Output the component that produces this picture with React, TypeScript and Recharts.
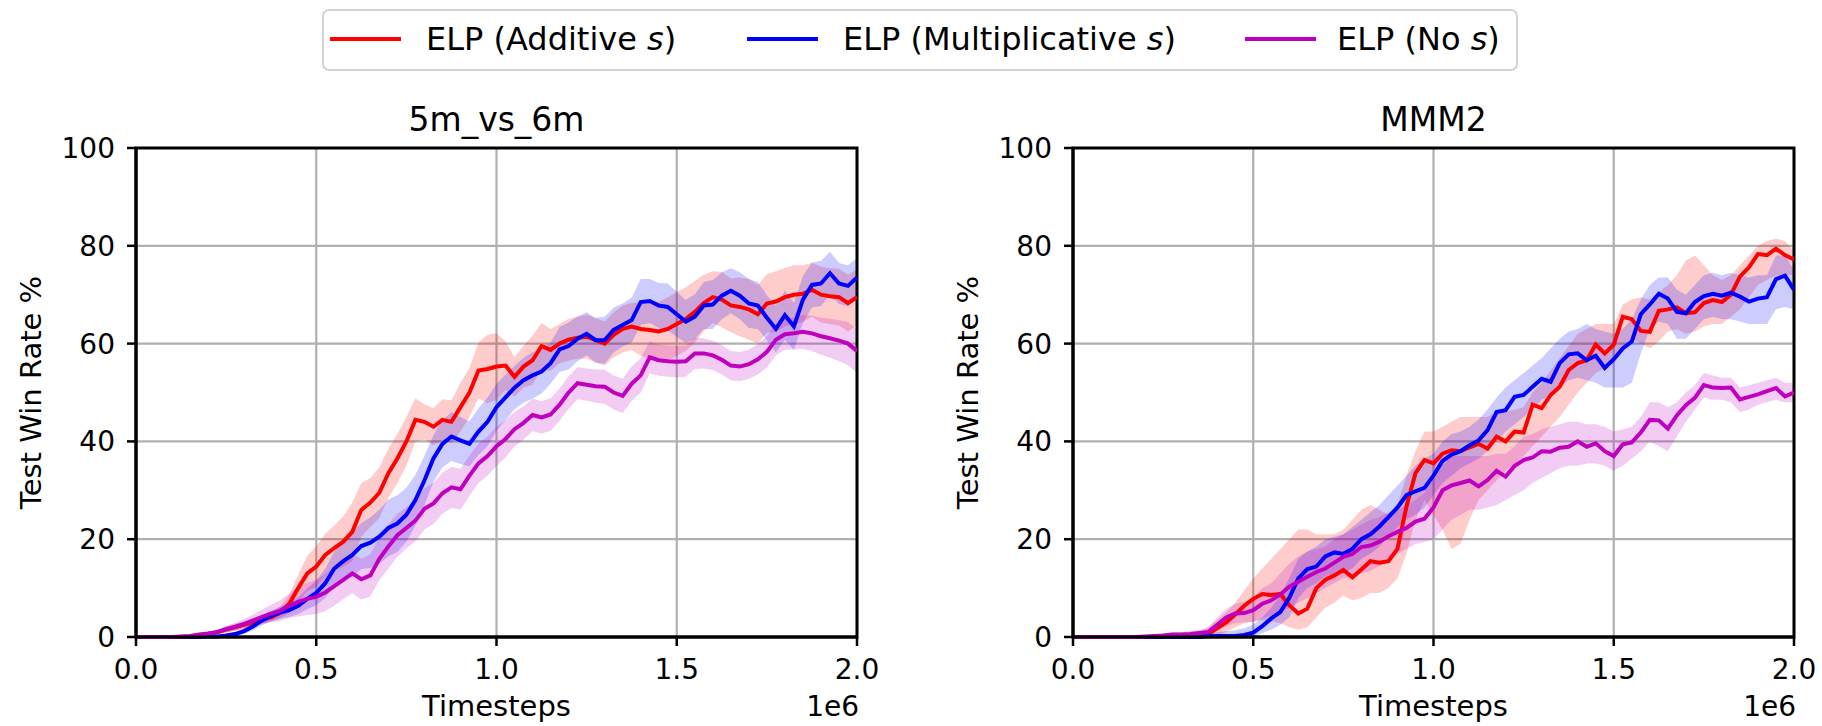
import { Area, CartesianGrid, ComposedChart, Label, Line, ReferenceArea, XAxis, YAxis } from "recharts";

const FONT = "'DejaVu Sans', sans-serif";
const RED = "#ff0000";
const BLUE = "#0000ff";
const MAGENTA = "#bf00bf";

// timesteps, in units of 1e6
const T_STEPS = [
  0, 0.025, 0.05, 0.075, 0.1, 0.125, 0.15, 0.175, 0.2, 0.225,
  0.25, 0.275, 0.3, 0.325, 0.35, 0.375, 0.4, 0.425, 0.45, 0.475,
  0.5, 0.525, 0.55, 0.575, 0.6, 0.625, 0.65, 0.675, 0.7, 0.725,
  0.75, 0.775, 0.8, 0.825, 0.85, 0.875, 0.9, 0.925, 0.95, 0.975,
  1, 1.025, 1.05, 1.075, 1.1, 1.125, 1.15, 1.175, 1.2, 1.225,
  1.25, 1.275, 1.3, 1.325, 1.35, 1.375, 1.4, 1.425, 1.45, 1.475,
  1.5, 1.525, 1.55, 1.575, 1.6, 1.625, 1.65, 1.675, 1.7, 1.725,
  1.75, 1.775, 1.8, 1.825, 1.85, 1.875, 1.9, 1.925, 1.95, 1.975,
  2,
];
const X_TICKS = [0, 0.5, 1, 1.5, 2];
const Y_TICKS = [0, 20, 40, 60, 80, 100];

// 5m_vs_6m
const M5_ADD = [
  0, 0, 0, 0, 0, 0, 0.1, 0.3, 0.6, 1.0,
  1.5, 2.0, 2.5, 3.0, 3.6, 4.0, 5.0, 6.8, 10, 13,
  14.4, 16.8, 18.2, 19.5, 21.5, 26, 27.5, 29.5, 33.5, 36.5,
  40, 44.4, 44, 43, 44.4, 44, 47, 50, 54.5, 54.8,
  55.3, 55.5, 53.2, 55.3, 56.6, 59.5, 58.7, 60, 60.8, 61.2,
  61.4, 60.7, 60, 61.8, 63, 63.5, 63, 62.8, 62.5, 63,
  64, 65, 66.5, 68.3, 69.5, 69, 67.8, 67.5, 67, 66,
  68.2, 68.6, 69.5, 70, 70.2, 71, 70, 69.7, 69.5, 68.3,
  69.5,
];
const M5_ADD_SD = [
  0, 0, 0, 0, 0, 0, 0.1, 0.3, 0.4, 0.5,
  0.6, 0.7, 0.7, 0.8, 0.8, 0.9, 1.2, 1.8, 2.8, 3.6,
  4.2, 4.3, 4.6, 5.2, 6, 5.5, 5, 5.2, 5, 5,
  5, 4.4, 3.6, 3.8, 4.2, 4.4, 5, 5, 5.7, 7,
  6.8, 5, 4, 4.3, 5, 4.7, 4.3, 4, 4.3, 4.3,
  4.5, 4.5, 4.5, 4.6, 4.8, 4.8, 5.5, 5.8, 6, 6.5,
  6.5, 6.5, 6.3, 5.8, 5.3, 5.7, 5.5, 6, 6.2, 6,
  6, 6.2, 6, 6, 5.8, 5.5, 5.7, 5.7, 5.8, 5.8,
  5.7,
];
const M5_MUL = [
  0, 0, 0, 0, 0, 0, 0, 0, 0.1, 0.1,
  0.3, 0.6, 1.2, 2.2, 3.4, 4.3, 5.0, 5.5, 6.4, 7.8,
  9, 11, 14, 15.5, 16.8, 18.6, 19.3, 20.5, 22.3, 23.2,
  25, 28, 32, 36.5, 39.5, 41, 40.2, 39.5, 42, 44,
  47, 49, 51, 52.5, 53.5, 54.3, 56, 58.8, 59.5, 61,
  62, 60.7, 60.7, 62.8, 63.8, 64.8, 68.5, 68.7, 67.8, 67.5,
  66, 64.5, 65.5, 67.8, 68, 69.8, 70.8, 69.8, 68.2, 67.8,
  65.3, 63, 65.8, 63.5, 69, 72, 72.3, 74.4, 72.3, 71.8,
  73.5,
];
const M5_MUL_SD = [
  0, 0, 0, 0, 0, 0, 0, 0, 0, 0.1,
  0.3, 0.4, 0.6, 0.8, 1.0, 1.1, 1.2, 1.4, 1.7, 2.1,
  2.5, 3, 3.5, 4, 4.5, 4.7, 5.2, 5.5, 5.8, 5.8,
  5.5, 5.2, 5, 4.8, 4.8, 5, 4.8, 4.6, 4.8, 5,
  4.8, 4.7, 4.4, 4.6, 4.8, 4.5, 4.2, 4.6, 4.8, 4.6,
  4.4, 4.6, 4.8, 4.6, 4.4, 4.6, 4.7, 4.5, 4.6, 4.8,
  4.6, 4.4, 4.6, 4.8, 5, 4.8, 4.6, 4.8, 5, 4.8,
  4.6, 4.8, 5, 4.8, 4.8, 4.6, 4.6, 4.4, 4.2, 4.2,
  4,
];
const M5_NO = [
  0, 0, 0, 0, 0, 0.1, 0.2, 0.5, 0.7, 1.0,
  1.6, 2.1, 2.7, 3.4, 4.1, 4.8, 5.4, 6.4, 7.2, 7.8,
  8.2, 9.1, 10.4, 11.7, 13, 11.8, 12.6, 16, 18.5, 20.8,
  22.3, 23.8, 26.2, 27.3, 29.4, 30.6, 30.2, 33, 35.5, 37,
  39, 40.5, 42.5, 43.8, 45.4, 44.9, 45.5, 47.5, 50, 51.9,
  51.6, 51.3, 51.2, 50, 49.3, 51.8, 53.5, 57.2, 56.6, 56.4,
  56.3, 56.4, 58, 58, 57.6, 56.7, 55.5, 55.3, 55.8, 56.8,
  58.3, 60.8, 61.9, 62.1, 62.4, 62.1, 61.5, 61.1, 60.6, 60,
  58.5,
];
const M5_NO_SD = [
  0, 0, 0, 0, 0, 0, 0.1, 0.2, 0.4, 0.5,
  0.7, 0.8, 1.0, 1.2, 1.5, 1.8, 2.1, 2.5, 3, 3.3,
  3.5, 3.8, 4, 4, 4, 4.2, 4.3, 4.4, 4.5, 4.4,
  4.2, 4.2, 4.2, 4.2, 4.2, 4.2, 4.2, 4.1, 4, 4,
  4, 3.8, 3.5, 3.4, 3.3, 3.3, 3.3, 3.3, 3.3, 3.3,
  3.3, 3.4, 3.5, 3.5, 3.5, 3.5, 3.5, 3.3, 3.2, 3.2,
  3.2, 3.2, 3.2, 3.1, 3, 3, 3, 3, 3, 3.1,
  3.2, 3.2, 3.2, 3.3, 3.5, 3.6, 3.8, 4, 4.2, 4.4,
  4.5,
];

// MMM2
const MM_ADD = [
  0, 0, 0, 0, 0, 0, 0, 0, 0, 0,
  0, 0, 0, 0, 0, 0.6, 1.8, 3.0, 4.6, 6.4,
  7.8, 8.8, 8.6, 8.8, 6.5, 4.8, 5.8, 10, 11.7, 12.6,
  13.7, 12.2, 13.8, 15.5, 15.2, 15.5, 18, 26.7, 33.5, 36.2,
  35.5, 37.5, 38.2, 38, 38.8, 39.5, 38.5, 41, 40, 42,
  41.8, 47.5, 46.8, 49.5, 51.2, 54.6, 56, 56.6, 59.8, 58,
  59.8, 65.5, 65, 62.6, 62.4, 66.7, 67, 67.4, 66.2, 66.4,
  68.3, 68.9, 68.5, 70, 73.7, 75.6, 78.3, 78.1, 79.4, 78.1,
  77.2,
];
const MM_ADD_LO = [
  0, 0, 0, 0, 0, 0, 0, 0, 0, 0,
  0, 0, 0, 0, 0, 0, 0.3, 1.0, 2.0, 2.8,
  3.2, 3.4, 3.2, 2.8, 2, 1.5, 2, 4, 6, 7,
  8.5, 7.5, 8, 9, 9, 10, 12, 17, 24, 28,
  25, 22, 18, 19, 24, 28, 30, 32, 34, 35.5,
  37, 39, 41, 43, 45, 47.5, 50, 52, 54, 55,
  56, 58.5, 61, 60, 59, 60.5, 62.5, 63, 62, 62.5,
  63.5, 64, 64, 65.5, 67, 69.5, 72, 73, 74, 74,
  74,
];
const MM_ADD_HI = [
  0, 0, 0, 0, 0, 0, 0, 0, 0, 0,
  0, 0, 0.2, 0.5, 1, 2, 3.5, 5, 7, 9.5,
  12, 14, 16, 18, 20, 22, 22, 21, 21, 21,
  22, 24, 26, 27, 26, 25, 27, 33, 38, 42,
  42, 43, 44, 45, 45, 45, 45, 46, 46, 46.5,
  47, 50, 52, 54.5, 57, 59.5, 62, 63, 64, 64,
  64, 68, 69, 69.5, 69, 70.5, 72, 74, 77, 78,
  76, 74, 73, 74, 76, 78, 80, 81, 81.5, 81,
  79,
];
const MM_MUL = [
  0, 0, 0, 0, 0, 0, 0, 0, 0, 0,
  0, 0, 0, 0, 0, 0.2, 0.2, 0.2, 0.2, 0.4,
  0.9, 2.2, 3.8, 5.1, 8, 12, 13.9, 14.4, 16.5, 17.3,
  17, 18, 20, 21, 22.6, 24.5, 26.5, 29, 29.8, 30.5,
  33, 36, 37.3, 38, 39.2, 40.2, 42.3, 46, 46.4, 49.1,
  49.5, 51.2, 52.8, 52.2, 56, 57.8, 58, 56.6, 57.5, 55,
  56.8, 59, 60.4, 66, 68, 70.2, 69.2, 66.5, 66.2, 68.5,
  69.7, 70.2, 69.8, 70.4, 69.6, 68.6, 69.2, 69.5, 73.2, 73.9,
  71,
];
const MM_MUL_LO = [
  0, 0, 0, 0, 0, 0, 0, 0, 0, 0,
  0, 0, 0, 0, 0, 0, 0, 0, 0, 0,
  0, 0.8, 1.5, 2.5, 4, 8, 10, 11, 12.5, 13,
  13, 14, 16, 17, 18.5, 20.5, 22.5, 24, 25, 26.5,
  29, 31.5, 33, 34.5, 35.5, 36.5, 38, 40, 42, 43.5,
  45, 46.5, 48.5, 49.5, 51, 52.5, 53, 52.5, 52, 51,
  51, 51, 52, 58, 63, 64.5, 64, 61, 61, 63,
  65, 65.5, 65, 65, 64.5, 64, 64, 64, 67, 67.5,
  67,
];
const MM_MUL_HI = [
  0, 0, 0, 0, 0, 0, 0, 0, 0, 0,
  0, 0, 0, 0, 0.3, 0.8, 1, 1.2, 1.4, 1.8,
  2.5, 4, 6, 8.5, 12, 16, 17.5, 18.5, 20, 20.5,
  21, 22.5, 24, 25.5, 27, 29, 31, 33, 35, 36.5,
  37.5, 40, 41.5, 42, 43, 44.5, 46.5, 49, 51, 52.5,
  54, 55.5, 57, 59, 61, 62.5, 63, 64, 63, 62.5,
  62, 63, 65, 69, 72, 73.5, 73.5, 71, 70, 72,
  74, 74.5, 74, 74.5, 74, 73.5, 74, 74, 78, 78,
  75,
];
const MM_NO = [
  0, 0, 0, 0, 0, 0, 0, 0, 0.1, 0.2,
  0.3, 0.5, 0.5, 0.6, 0.8, 1.0, 2.5, 4.0, 4.8, 4.9,
  5.5, 6.8, 7.5, 8.7, 10.3, 11.3, 12.3, 13.3, 14, 15.2,
  16.4, 17, 18.4, 18.7, 19.5, 20.6, 21.5, 22.3, 23.6, 24.2,
  26.5, 30, 31, 31.5, 32, 30.8, 32.1, 34, 32.8, 35,
  36.2, 36.7, 38, 37.9, 38.7, 38.9, 40, 38.9, 39.6, 38,
  37, 39.4, 39.8, 41.8, 44.4, 44.3, 42.6, 45.3, 47.4, 48.9,
  51.5, 51, 50.9, 51, 48.6, 49.1, 49.6, 50.3, 50.9, 49.2,
  50,
];
const MM_NO_LO = [
  0, 0, 0, 0, 0, 0, 0, 0, 0, 0,
  0, 0, 0, 0, 0.2, 0.4, 1.2, 2.2, 2.8, 3,
  3, 3.8, 4.5, 5.2, 6, 7, 8, 9, 10, 11,
  12, 12.5, 13, 13.5, 14.5, 15.5, 17, 18, 19, 19.5,
  20, 22, 24, 25, 26, 26, 26.5, 27, 28, 29,
  30, 31.5, 32.5, 33.5, 34.5, 35, 35, 35.5, 35.5, 35,
  34, 35, 36.5, 38, 40, 39, 38, 41, 44, 46.5,
  49, 48.5, 48.5, 48, 46, 46.5, 47.5, 48, 48.5, 48,
  48,
];
const MM_NO_HI = [
  0, 0, 0, 0, 0, 0, 0, 0.1, 0.3, 0.5,
  0.7, 0.9, 1, 1.2, 1.5, 2, 4, 5.8, 6.8, 7.2,
  8, 10, 11, 13, 15, 16.5, 17.5, 18, 18.5, 20,
  21, 22, 23, 24, 24.5, 25.5, 26, 27, 28, 29.5,
  32, 35, 37, 37, 37, 37, 37, 37.5, 37.5, 39,
  41, 41.5, 42.5, 43, 43.5, 44, 44, 43.5, 43.5, 43,
  42, 42.5, 43, 45, 48, 48, 47, 48, 50, 51.5,
  54, 53.5, 53, 53, 51, 51.5, 52, 52.5, 53, 52,
  52,
];

type Row = {
  t: number;
  add: number;
  mul: number;
  no: number;
  addBand: [number, number];
  mulBand: [number, number];
  noBand: [number, number];
};

const band = (v: number, sd: number): [number, number] => [Math.max(0, v - sd), v + sd];

const rows5m: Row[] = T_STEPS.map((t, i) => ({
  t,
  add: M5_ADD[i],
  mul: M5_MUL[i],
  no: M5_NO[i],
  addBand: band(M5_ADD[i], M5_ADD_SD[i]),
  mulBand: band(M5_MUL[i], M5_MUL_SD[i]),
  noBand: band(M5_NO[i], M5_NO_SD[i]),
}));

const rowsMMM2: Row[] = T_STEPS.map((t, i) => ({
  t,
  add: MM_ADD[i],
  mul: MM_MUL[i],
  no: MM_NO[i],
  addBand: [MM_ADD_LO[i], MM_ADD_HI[i]],
  mulBand: [MM_MUL_LO[i], MM_MUL_HI[i]],
  noBand: [MM_NO_LO[i], MM_NO_HI[i]],
}));

const textStyle = { fontFamily: FONT, fill: "#000" };

function Panel({ data, title, left }: { data: Row[]; title: string; left: number }) {
  return (
    <div style={{ position: "absolute", left, top: 0 }}>
      <ComposedChart width={885} height={726} data={data} margin={{ top: 148, right: 28, bottom: 0, left: 0 }}>
        <CartesianGrid stroke="#b0b0b0" strokeWidth={2.2} />
        <XAxis
          dataKey="t"
          type="number"
          domain={[0, 2]}
          ticks={X_TICKS}
          allowDataOverflow
          height={89}
          tickSize={9}
          tickMargin={13}
          tick={{ ...textStyle, fontSize: 28 }}
          tickLine={{ stroke: "#000", strokeWidth: 2.5 }}
          axisLine={{ stroke: "#000", strokeWidth: 3 }}
          tickFormatter={(v) => Number(v).toFixed(1)}
        >
          <Label
            content={(p: any) => {
              const vb = p.viewBox;
              return (
                <g>
                  <text x={vb.x + vb.width / 2} y={vb.y + 79} textAnchor="middle" fontSize={29} {...textStyle}>
                    Timesteps
                  </text>
                  <text x={vb.x + vb.width + 2} y={vb.y + 79} textAnchor="end" fontSize={28} {...textStyle}>
                    1e6
                  </text>
                </g>
              );
            }}
          />
        </XAxis>
        <YAxis
          type="number"
          domain={[0, 100]}
          ticks={Y_TICKS}
          width={136}
          tickSize={9}
          tickMargin={12}
          tick={{ ...textStyle, fontSize: 28 }}
          tickLine={{ stroke: "#000", strokeWidth: 2.5 }}
          axisLine={{ stroke: "#000", strokeWidth: 3 }}
        >
          <Label
            content={(p: any) => {
              const vb = p.viewBox;
              const x = vb.x + 31;
              const y = vb.y + vb.height / 2;
              return (
                <text
                  x={x}
                  y={y}
                  transform={`rotate(-90 ${x} ${y})`}
                  textAnchor="middle"
                  dominantBaseline="central"
                  fontSize={29}
                  {...textStyle}
                >
                  Test Win Rate %
                </text>
              );
            }}
          />
        </YAxis>

        <Area type="linear" dataKey="addBand" stroke="none" fill={RED} fillOpacity={0.2} isAnimationActive={false} activeDot={false} />
        <Area type="linear" dataKey="mulBand" stroke="none" fill={BLUE} fillOpacity={0.2} isAnimationActive={false} activeDot={false} />
        <Area type="linear" dataKey="noBand" stroke="none" fill={MAGENTA} fillOpacity={0.2} isAnimationActive={false} activeDot={false} />

        <Line type="linear" dataKey="add" stroke={RED} strokeWidth={4} dot={false} isAnimationActive={false} />
        <Line type="linear" dataKey="mul" stroke={BLUE} strokeWidth={4} dot={false} isAnimationActive={false} />
        <Line type="linear" dataKey="no" stroke={MAGENTA} strokeWidth={4} dot={false} isAnimationActive={false} />

        <ReferenceArea
          x1={0}
          x2={2}
          y1={0}
          y2={100}
          fill="none"
          stroke="#000"
          strokeWidth={3}
          fillOpacity={0}
          label={(p: any) => {
            const vb = p.viewBox;
            return (
              <text x={vb.x + vb.width / 2} y={vb.y - 17} textAnchor="middle" fontSize={33} {...textStyle}>
                {title}
              </text>
            );
          }}
        />
      </ComposedChart>
    </div>
  );
}

const LEGEND = [
  { name: "Additive", color: RED, lineX: 330, textX: 426 },
  { name: "Multiplicative", color: BLUE, lineX: 747, textX: 843 },
  { name: "No", color: MAGENTA, lineX: 1245, textX: 1337 },
];

export default function App() {
  return (
    <div style={{ position: "absolute", left: 0, top: 0, width: 1822, height: 726, background: "#fff", overflow: "hidden" }}>
      <Panel data={rows5m} title="5m_vs_6m" left={0} />
      <Panel data={rowsMMM2} title="MMM2" left={937} />

      <div
        style={{
          position: "absolute",
          left: 322,
          top: 9,
          width: 1196,
          height: 62,
          boxSizing: "border-box",
          border: "2px solid #d4d4d4",
          borderRadius: 7,
          background: "#fff",
        }}
      />
      {LEGEND.map((item) => (
        <div key={item.name}>
          <div style={{ position: "absolute", left: item.lineX, top: 37, width: 71, height: 4, background: item.color }} />
          <div
            style={{
              position: "absolute",
              left: item.textX,
              top: 20,
              lineHeight: "38px",
              fontSize: 32,
              fontFamily: FONT,
              color: "#000",
              whiteSpace: "nowrap",
            }}
          >
            ELP ({item.name} <i>s</i>)
          </div>
        </div>
      ))}
    </div>
  );
}
